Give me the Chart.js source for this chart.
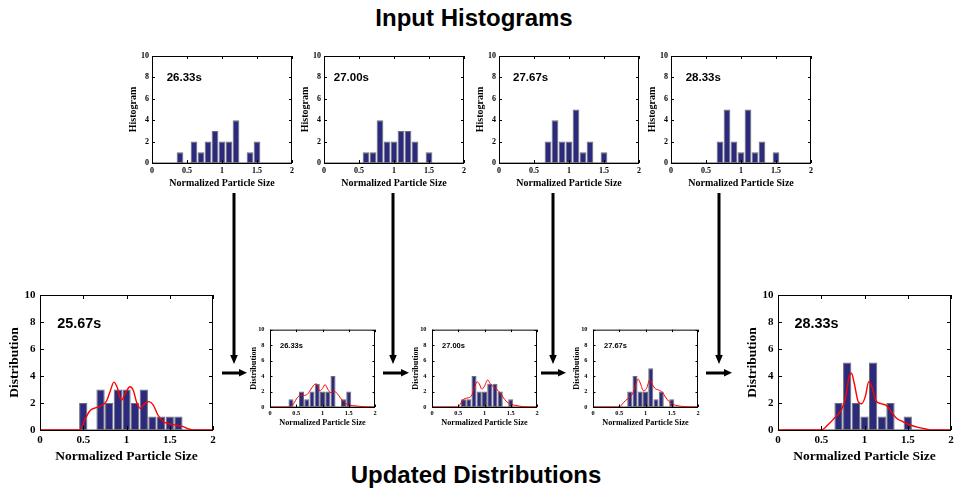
<!DOCTYPE html>
<html><head><meta charset="utf-8">
<script src="https://cdn.jsdelivr.net/npm/chart.js@4/dist/chart.umd.min.js"></script>
<style>
html,body{margin:0;padding:0;background:#fff;}
#root{position:relative;width:956px;height:491px;overflow:hidden;background:#fff;}
#root canvas{position:absolute;}
#overlay{position:absolute;left:0;top:0;}
</style></head>
<body><div id="root">
<svg id="overlay" width="956" height="491" xmlns="http://www.w3.org/2000/svg">
  <text x="474" y="26" text-anchor="middle" font-family="Liberation Sans, Arial, sans-serif" font-weight="bold" font-size="24" fill="#000">Input Histograms</text>
  <text x="476" y="483" text-anchor="middle" font-family="Liberation Sans, Arial, sans-serif" font-weight="bold" font-size="24" fill="#000">Updated Distributions</text>
  <g id="arrows" fill="#000" stroke="none"></g>
</svg>
</div>
<script>
// ---------------- DATA ----------------
const xTickValues = [0, 0.5, 1, 1.5, 2];
const xTickLabels = ['0', '0.5', '1', '1.5', '2'];
const yTickValues = [0, 2, 4, 6, 8, 10];
const yTickLabels = ['0', '2', '4', '6', '8', '10'];
const xRange = [0, 2];
const yRange = [0, 10];

const xAxisTitle = 'Normalized Particle Size';
const histTitle = 'Histogram';
const distTitle = 'Distribution';

// histogram bins (bin centres) and counts
const bins2567 = [0.5, 0.7, 0.8, 0.9, 1.0, 1.1, 1.2, 1.3, 1.4, 1.5, 1.6];
const counts2567 = [2, 3, 2, 3, 3, 2, 3, 1, 1, 1, 1];

const bins2633 = [0.4, 0.6, 0.7, 0.8, 0.9, 1.0, 1.1, 1.2, 1.4, 1.5];
const counts2633 = [1, 2, 1, 2, 3, 2, 2, 4, 1, 2];

const bins2700 = [0.6, 0.7, 0.8, 0.9, 1.0, 1.1, 1.2, 1.3, 1.5];
const counts2700 = [1, 1, 4, 2, 2, 3, 3, 2, 1];

const bins2767 = [0.7, 0.8, 0.9, 1.0, 1.1, 1.2, 1.3, 1.5];
const counts2767 = [2, 4, 2, 2, 5, 1, 2, 1];

const bins2833 = [0.7, 0.8, 0.9, 1.0, 1.1, 1.2, 1.3, 1.5];
const counts2833 = [2, 5, 2, 1, 5, 1, 2, 1];

// estimated density curves (red)
const curveX2567 = [0, 0.46, 0.52, 0.58, 0.65, 0.71, 0.77, 0.81, 0.855, 0.89, 0.94, 0.99, 1.04, 1.08, 1.12, 1.16, 1.21, 1.26, 1.31, 1.36, 1.42, 1.5, 1.58, 1.65, 1.71, 1.77, 2.0];
const curveY2567 = [0, 0, 0.8, 1.45, 1.65, 1.8, 2.15, 2.85, 3.55, 3.2, 2.2, 2.75, 3.2, 2.9, 2.0, 1.6, 1.95, 2.1, 1.85, 1.15, 0.65, 0.45, 0.35, 0.27, 0.1, 0, 0];

const curveX2633 = [0, 0.38, 0.45, 0.52, 0.58, 0.65, 0.71, 0.77, 0.83, 0.88, 0.95, 1.0, 1.05, 1.1, 1.16, 1.22, 1.28, 1.34, 1.42, 1.52, 1.62, 1.75, 2.0];
const curveY2633 = [0, 0, 0.45, 1.2, 1.5, 1.5, 1.65, 2.2, 2.8, 3.0, 2.1, 2.4, 2.9, 2.3, 1.85, 2.0, 1.75, 1.2, 0.55, 0.25, 0.15, 0.05, 0];

const curveX2700 = [0, 0.5, 0.55, 0.6, 0.66, 0.72, 0.77, 0.81, 0.86, 0.9, 0.95, 1.0, 1.06, 1.11, 1.17, 1.23, 1.29, 1.35, 1.42, 1.5, 1.6, 1.73, 2.0];
const curveY2700 = [0, 0, 0.5, 1.0, 1.15, 1.25, 1.7, 2.6, 3.25, 3.0, 2.3, 2.7, 3.5, 3.0, 2.6, 2.3, 1.9, 1.3, 0.7, 0.35, 0.2, 0.05, 0];

const curveX2767 = [0, 0.5, 0.56, 0.62, 0.7, 0.76, 0.81, 0.86, 0.9, 0.96, 1.02, 1.08, 1.13, 1.19, 1.25, 1.32, 1.38, 1.44, 1.52, 1.62, 1.75, 2.0];
const curveY2767 = [0, 0, 0.4, 0.85, 1.25, 1.8, 2.8, 3.6, 3.1, 2.1, 2.4, 3.5, 2.9, 2.35, 2.2, 1.9, 1.3, 0.75, 0.35, 0.15, 0.05, 0];

const curveX2833 = [0, 0.5, 0.58, 0.65, 0.73, 0.78, 0.82, 0.85, 0.88, 0.93, 0.97, 1.01, 1.05, 1.09, 1.13, 1.19, 1.25, 1.31, 1.37, 1.44, 1.52, 1.62, 1.71, 1.79, 2.0];
const curveY2833 = [0, 0, 0.4, 0.87, 1.47, 2.3, 3.9, 4.2, 3.5, 2.07, 1.95, 2.5, 3.57, 3.1, 2.2, 1.95, 1.83, 1.35, 0.87, 0.63, 0.39, 0.19, 0.07, 0, 0];

// ---------------- STYLE / LAYOUT ----------------
const SERIF = '"Liberation Serif", "Times New Roman", serif';
const SANS = '"Liberation Sans", Arial, sans-serif';
const BAR_FILL = '#2c2a7c';
const BAR_EDGE = '#6f6f6f';

const root = document.getElementById('root');

const boxPlugin = {
  id: 'matlabBox',
  afterDatasetsDraw(chart, args, o) {
    const {ctx, chartArea: a, scales: {x, y}} = chart;
    ctx.save();
    ctx.strokeStyle = '#000';
    ctx.lineWidth = 1;
    ctx.beginPath();
    x.ticks.forEach(t => {
      const px = Math.round(x.getPixelForValue(t.value)) + 0.5;
      ctx.moveTo(px, a.bottom); ctx.lineTo(px, a.bottom - o.tickLen);
      ctx.moveTo(px, a.top); ctx.lineTo(px, a.top + o.tickLen);
    });
    y.ticks.forEach(t => {
      const py = Math.round(y.getPixelForValue(t.value)) + 0.5;
      ctx.moveTo(a.left, py); ctx.lineTo(a.left + o.tickLen, py);
      ctx.moveTo(a.right, py); ctx.lineTo(a.right - o.tickLen, py);
    });
    ctx.stroke();
    ctx.strokeRect(a.left + 0.5, a.top + 0.5, a.right - a.left - 1, a.bottom - a.top);
    ctx.fillStyle = '#000';
    ctx.font = 'bold ' + o.annotFont + 'px ' + SANS;
    ctx.textBaseline = 'alphabetic';
    ctx.textAlign = 'left';
    ctx.fillText(o.text, x.getPixelForValue(o.ax), y.getPixelForValue(o.ay));
    ctx.restore();
  }
};

function makeChart(s) {
  const L = Math.round(s.L), T = Math.round(s.T), R = Math.round(s.R), B = Math.round(s.B);
  const cLeft = Math.round(s.yLabelX - s.labelFont / 2);
  const cTop = T - s.padTop;
  const cRight = R + s.padR;
  const cBottom = Math.round(s.xLabelY + s.labelFont / 2);
  const w = cRight - cLeft, h = cBottom - cTop;
  const cv = document.createElement('canvas');
  cv.width = w; cv.height = h;
  cv.style.left = cLeft + 'px'; cv.style.top = cTop + 'px';
  cv.style.width = w + 'px'; cv.style.height = h + 'px';
  root.appendChild(cv);

  const datasets = [];
  if (s.curveX) {
    datasets.push({
      type: 'line', order: 0,
      data: s.curveX.map((v, i) => ({x: v, y: s.curveY[i]})),
      borderColor: '#ff0000', borderWidth: s.curveW, pointRadius: 0,
      cubicInterpolationMode: 'monotone', fill: false
    });
  }
  datasets.push({
    type: 'bar', order: 1,
    data: s.bins.map((v, i) => ({x: v, y: s.counts[i]})),
    backgroundColor: BAR_FILL, borderColor: BAR_EDGE, borderWidth: 1,
    borderSkipped: false, barPercentage: 0.96, categoryPercentage: 1
  });
  datasets.push({
    type: 'line', order: 2,
    data: xRange.map(v => ({x: v, y: 0})),
    borderColor: '#8a8a8a', borderWidth: 1.5, pointRadius: 0, fill: false
  });

  const tickFont = {family: SERIF, weight: 'bold', size: s.tickFont, lineHeight: 1};
  const labFont = {family: SERIF, weight: 'bold', size: s.labelFont, lineHeight: 1};

  new Chart(cv, {
    type: 'bar',
    data: {datasets},
    options: {
      responsive: false, animation: false, devicePixelRatio: 1,
      layout: {padding: {left: 0, top: s.padTop, right: s.padR, bottom: 0}},
      plugins: {legend: {display: false}, tooltip: {enabled: false},
        matlabBox: {tickLen: s.tickLen, annotFont: s.annotFont, text: s.text, ax: s.ax, ay: s.ay}},
      scales: {
        x: {
          type: 'linear', min: xRange[0], max: xRange[1], offset: false,
          afterBuildTicks: sc => { sc.ticks = xTickValues.map(v => ({value: v})); },
          ticks: {callback: v => xTickLabels[xTickValues.indexOf(v)], font: tickFont, color: '#000',
                  padding: s.xTickPad, maxRotation: 0, autoSkip: false},
          grid: {display: false, drawTicks: false}, border: {display: false},
          title: {display: true, text: xAxisTitle, font: labFont, color: '#000', padding: 0},
          afterFit: sc => { sc.height = cBottom - B; }
        },
        y: {
          type: 'linear', min: yRange[0], max: yRange[1],
          afterBuildTicks: sc => { sc.ticks = yTickValues.map(v => ({value: v})); },
          ticks: {callback: v => yTickLabels[yTickValues.indexOf(v)], font: tickFont, color: '#000',
                  padding: s.yTickPad, autoSkip: false},
          grid: {display: false, drawTicks: false}, border: {display: false},
          title: {display: true, text: s.yTitle, font: labFont, color: '#000', padding: 0},
          afterFit: sc => { sc.width = L - cLeft; }
        }
      }
    },
    plugins: [boxPlugin]
  });
}

// top row: input histograms
const topCommon = {T: 56, B: 162.5, labelFont: 10, tickFont: 8, annotFont: 11.5, xTickPad: 4,
  yTickPad: 3, xLabelY: 183.3, tickLen: 3, padTop: 8, padR: 10, ay: 7.65, yTitle: histTitle};
const topLefts = [152, 324, 499, 671];
const topData = [[bins2633, counts2633, '26.33s', 0.21], [bins2700, counts2700, '27.00s', 0.14],
                 [bins2767, counts2767, '27.67s', 0.2], [bins2833, counts2833, '28.33s', 0.21]];
topData.forEach((d, i) => makeChart(Object.assign({}, topCommon, {
  L: topLefts[i], R: topLefts[i] + 139.5, yLabelX: topLefts[i] - 19.5,
  bins: d[0], counts: d[1], text: d[2], ax: d[3]
})));

// bottom row big
const bigCommon = {T: 295, B: 430, labelFont: 13.5, tickFont: 11, annotFont: 14.4, xTickPad: 4.5,
  yTickPad: 4.5, xLabelY: 456, tickLen: 4, padTop: 10, padR: 10, ay: 7.58, yTitle: distTitle, curveW: 1.4};
makeChart(Object.assign({}, bigCommon, {L: 40, R: 213, yLabelX: 15, bins: bins2567, counts: counts2567,
  curveX: curveX2567, curveY: curveY2567, text: '25.67s', ax: 0.2}));
makeChart(Object.assign({}, bigCommon, {L: 778, R: 951, yLabelX: 752.3, bins: bins2833, counts: counts2833,
  curveX: curveX2833, curveY: curveY2833, text: '28.33s', ax: 0.19}));

// bottom row small
const smallCommon = {T: 327, B: 407, labelFont: 8.2, tickFont: 6.3, annotFont: 7.5, xTickPad: 3,
  yTickPad: 5.5, xLabelY: 423, tickLen: 2.5, padTop: 6, padR: 8, ay: 7.66, yTitle: distTitle, curveW: 1};
const smallLefts = [270, 432, 593];
const smallData = [[bins2633, counts2633, curveX2633, curveY2633, '26.33s', 0.19],
                   [bins2700, counts2700, curveX2700, curveY2700, '27.00s', 0.19],
                   [bins2767, counts2767, curveX2767, curveY2767, '27.67s', 0.21]];
smallData.forEach((d, i) => makeChart(Object.assign({}, smallCommon, {
  L: smallLefts[i], R: smallLefts[i] + 105, yLabelX: smallLefts[i] - 16,
  bins: d[0], counts: d[1], curveX: d[2], curveY: d[3], text: d[4], ax: d[5]
})));

// arrows (diagram decoration)
const NS = 'http://www.w3.org/2000/svg';
const g = document.getElementById('arrows');
function poly(pts) { const p = document.createElementNS(NS, 'polygon'); p.setAttribute('points', pts.map(q => q.join(',')).join(' ')); g.appendChild(p); }
function rect(x, y, w, h) { const r = document.createElementNS(NS, 'rect'); r.setAttribute('x', x); r.setAttribute('y', y); r.setAttribute('width', w); r.setAttribute('height', h); g.appendChild(r); }
[234, 393, 553, 719].forEach(x => {
  rect(x - 1.5, 193, 3, 163);
  poly([[x - 3.8, 355], [x + 3.8, 355], [x, 364]]);
});
[[222, 247], [383, 409], [541, 566], [706, 732]].forEach(([a, b]) => {
  rect(a, 371.5, b - a - 7, 3);
  poly([[b - 8, 369], [b - 8, 376.5], [b, 372.8]]);
});
</script>
</body></html>
